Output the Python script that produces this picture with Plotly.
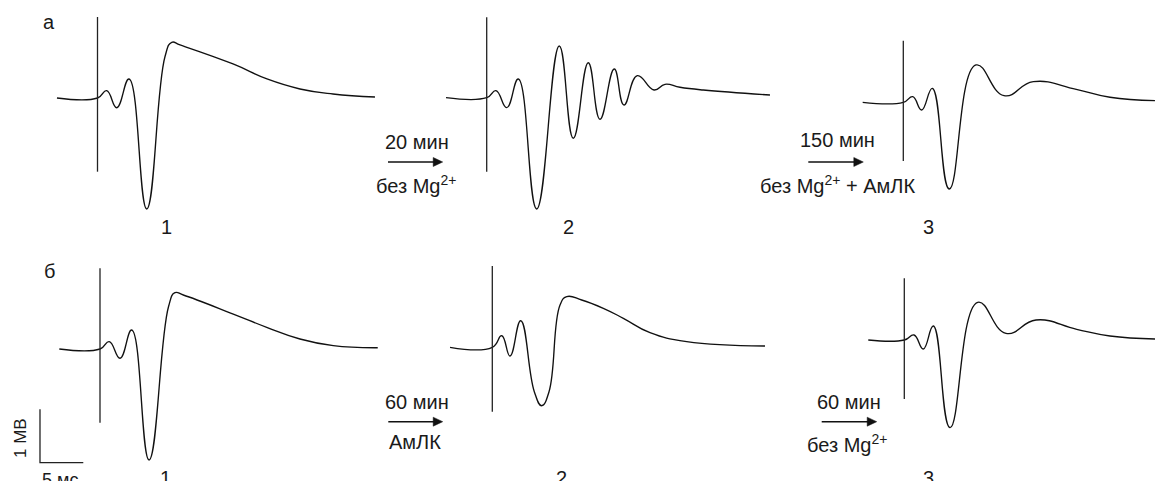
import plotly.graph_objects as go

# ---------------- data (time in ms from stimulus, voltage in mV from baseline) ----------------
t_a1 = [-4.68, 0, 1.06, 2.22, 3.64, 5.68, 7.79, 8.57, 9.53, 15.65, 19.57, 23.38, 27.19, 32.04]
v_a1 = [0, 0, 0.137, -0.182, 0.356, -2.079, 0.773, 1.043, 0.993, 0.637, 0.356, 0.169, 0.075, 0.019]

t_a2 = [-4.70, 0, 1.07, 2.31, 3.65, 5.77, 8.38, 10.00, 11.73, 13.08, 14.73, 15.85, 17.39, 19.32,
        20.59, 22.32, 25.01, 32.71]
v_a2 = [0, 0, 0.131, -0.187, 0.350, -2.084, 0.968, -0.760, 0.655, -0.404, 0.537, -0.137, 0.412, 0.144,
        0.251, 0.195, 0.144, 0.051]

t_a3 = [-4.69, 0, 1.09, 2.12, 3.35, 5.31, 8.39, 11.63, 15.01, 19.97, 23.87, 29.06]
v_a3 = [0, 0, 0.105, -0.144, 0.262, -1.624, 0.699, 0.124, 0.386, 0.243, 0.094, 0.030]

t_b1 = [-4.70, 0, 1.07, 2.31, 3.66, 5.66, 7.91, 8.66, 9.62, 15.39, 19.25, 23.09, 26.94, 32.07]
v_b1 = [0, 0, 0.137, -0.174, 0.356, -2.079, 0.792, 1.054, 1.011, 0.655, 0.406, 0.187, 0.062, 0.024]

t_b2 = [-4.88, 0, 1.09, 2.04, 3.28, 4.85, 5.70, 6.55, 7.82, 8.59, 10.32, 12.82, 15.13, 18.21, 22.45, 31.49]
v_b2 = [0, 0, 0.217, -0.163, 0.498, -0.831, -1.094, -0.831, 0.792, 0.948, 0.886, 0.730, 0.543, 0.273, 0.105, 0.024]

t_b3 = [-4.16, 0, 1.12, 2.19, 3.35, 5.28, 8.48, 11.74, 15.21, 19.91, 23.75, 28.95]
v_b3 = [0, 0, 0.094, -0.169, 0.262, -1.642, 0.706, 0.125, 0.375, 0.200, 0.075, 0.019]

# stimulus marker extents (mV, top / bottom)
stim_a1 = [1.517, -1.380]
stim_a2 = [1.506, -1.386]
stim_a3 = [1.154, -1.099]
stim_b1 = [1.511, -1.380]
stim_b2 = [1.522, -1.206]
stim_b3 = [1.155, -1.105]

# calibration bar
SCALE_MS = 5
SCALE_MV = 1

panel_labels = ["а", "б"]
trace_numbers = ["1", "2", "3"]
treatment_top = ["20 мин", "150 мин", "60 мин", "60 мин"]
treatment_bottom = ["без Mg<sup>2+</sup>", "без Mg<sup>2+</sup> + АмЛК", "АмЛК", "без Mg<sup>2+</sup>"]
scale_labels = ["1 МВ", "5 мс"]

# ---------------- layout geometry ----------------
W, H = 1155, 481
PX_PER_MS = 8.66
PX_PER_MV = 53.4
FONT = "Liberation Sans, Arial, sans-serif"
LINE_COLOR = "#111111"

# pixel position of (t=0, v=0) for each panel
ORIGINS = [(97.5, 98.0), (486.7, 97.7), (903.3, 102.3),
           (100.0, 349.0), (492.3, 347.3), (904.3, 340.0)]

def px(x):
    return x / W

def py(y):
    return 1 - y / H

panels = [(t_a1, v_a1, stim_a1), (t_a2, v_a2, stim_a2), (t_a3, v_a3, stim_a3),
          (t_b1, v_b1, stim_b1), (t_b2, v_b2, stim_b2), (t_b3, v_b3, stim_b3)]

fig = go.Figure()
layout_axes = {}
for i, (t, v, stim) in enumerate(panels, start=1):
    sfx = "" if i == 1 else str(i)
    xa, ya = "x" + sfx, "y" + sfx
    fig.add_trace(go.Scatter(x=t, y=v, mode="lines", xaxis=xa, yaxis=ya,
                             line=dict(shape="spline", smoothing=1.3, color=LINE_COLOR, width=1.35),
                             hoverinfo="skip", showlegend=False))
    fig.add_trace(go.Scatter(x=[0, 0], y=stim, mode="lines", xaxis=xa, yaxis=ya,
                             line=dict(color="#222222", width=1.3),
                             hoverinfo="skip", showlegend=False))
    sx, by = ORIGINS[i - 1]
    layout_axes["xaxis" + sfx] = dict(domain=[0, 1], range=[-sx / PX_PER_MS, (W - sx) / PX_PER_MS],
                                      visible=False, anchor=ya, fixedrange=True)
    layout_axes["yaxis" + sfx] = dict(domain=[0, 1], range=[(by - H) / PX_PER_MV, by / PX_PER_MV],
                                      visible=False, anchor=xa, fixedrange=True)

# calibration bar drawn in panel б1 units
corner_t, corner_v = -6.93, -2.129
fig.add_trace(go.Scatter(x=[corner_t, corner_t, corner_t + SCALE_MS],
                         y=[corner_v + SCALE_MV, corner_v, corner_v],
                         mode="lines", xaxis="x4", yaxis="y4",
                         line=dict(color="#222222", width=1.3),
                         hoverinfo="skip", showlegend=False))

fig.update_layout(width=W, height=H, margin=dict(l=0, r=0, t=0, b=0, pad=0),
                  paper_bgcolor="white", plot_bgcolor="rgba(0,0,0,0)",
                  showlegend=False, **layout_axes)

def text(s, x, y, size=20, angle=0):
    fig.add_annotation(text=s, x=px(x), y=py(y), xref="paper", yref="paper",
                       xanchor="center", yanchor="middle", showarrow=False,
                       textangle=angle, font=dict(family=FONT, size=size, color="#1a1a1a"))

# panel letters
text(panel_labels[0], 49, 22)
text(panel_labels[1], 49, 271)
# trace numbers
for lab, x in zip(trace_numbers, [166, 568.3, 928.3]):
    text(lab, x, 226.5)
for lab, x in zip(trace_numbers, [165.7, 561.7, 928.3]):
    text(lab, x, 477.5)

# treatment labels and arrows
arrow_specs = [(416.7, 141.7, 388.0, 442.7, 162.0, 415.8, 184.0),
               (837.3, 140.0, 808.3, 863.3, 162.0, 837.0, 184.0),
               (416.7, 401.7, 388.3, 442.7, 421.7, 415.0, 441.7),
               (849.3, 401.7, 821.7, 876.7, 421.7, 846.7, 443.0)]
HEAD_LEN, HEAD_HALF = 9.5, 4.5
for k, (tx, ty, ax0, ax1, ay, bx, byy) in enumerate(arrow_specs):
    text(treatment_top[k], tx, ty)
    text(treatment_bottom[k], bx, byy)
    fig.add_shape(type="line", xref="paper", yref="paper",
                  x0=px(ax0), x1=px(ax1 - HEAD_LEN + 1), y0=py(ay), y1=py(ay),
                  line=dict(color="#111111", width=1.4))
    path = "M {:.5f} {:.5f} L {:.5f} {:.5f} L {:.5f} {:.5f} Z".format(
        px(ax1), py(ay), px(ax1 - HEAD_LEN), py(ay - HEAD_HALF), px(ax1 - HEAD_LEN), py(ay + HEAD_HALF))
    fig.add_shape(type="path", xref="paper", yref="paper", path=path,
                  fillcolor="#111111", line=dict(color="#111111", width=0.5))

# calibration labels
text(scale_labels[0], 20, 438, size=17, angle=-90)
text(scale_labels[1], 60, 479.5, size=18)

fig.write_html("out.html")
